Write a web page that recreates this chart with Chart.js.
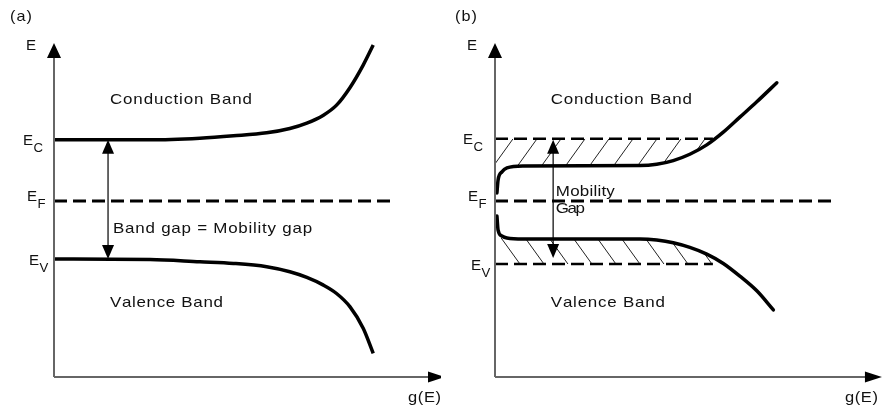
<!DOCTYPE html>
<html><head><meta charset="utf-8">
<script src="https://cdn.jsdelivr.net/npm/chart.js@4"></script>
<style>
html,body{margin:0;padding:0;background:#fff;overflow:hidden}
#wrap{position:relative;width:883px;height:407px;background:#fff}
canvas{position:absolute;top:0}
</style></head><body>
<div id="wrap">
<canvas id="ca" width="441" height="407" style="left:0px;width:441px;height:407px"></canvas>
<canvas id="cb" width="442" height="407" style="left:441px;width:442px;height:407px"></canvas>
</div>
<script>
// ---------- Data (g(E) on x, energy E on y, arbitrary 0..100 units) ----------
// Panel (a): crystalline band edges
const condA_g = [0, 24.9, 37.8, 46.5, 55.1, 61.1, 65.5, 69.8, 73.2, 76.7, 80.1, 82.7];
const condA_E = [71.0, 71.0, 71.5, 72.2, 73.1, 74.4, 76.0, 78.4, 81.4, 86.7, 93.4, 99.4];
const valA_g  = [0, 24.9, 37.8, 46.5, 55.1, 61.1, 65.5, 69.8, 73.2, 76.7, 80.1, 82.7];
const valA_E  = [35.3, 35.2, 34.5, 34.0, 33.0, 31.5, 29.8, 27.5, 25.0, 21.0, 14.6, 7.1];
const levelsA = { Ec: 71.0, Ef: 52.7, Ev: 35.3 };
const fermiA_g = [0, 88.3];
const gapArrowA = { g: 14.0, from: 35.3, to: 71.0 };

// Panel (b): amorphous, tail states inside the mobility gap
const condB_g = [0.5, 0.8, 1.8, 3.1, 7.3, 37.7, 42.0, 46.3, 50.6, 55.0, 59.3, 63.6, 68.0, 73.2];
const condB_E = [55.1, 59.0, 61.4, 62.6, 63.2, 63.3, 63.7, 64.8, 66.7, 69.5, 73.3, 77.8, 82.4, 88.1];
const valB_g  = [0.5, 0.8, 1.8, 3.1, 7.3, 37.7, 42.0, 46.3, 50.6, 55.0, 59.3, 63.6, 68.0, 72.3];
const valB_E  = [48.2, 44.0, 42.2, 41.6, 41.3, 41.3, 41.0, 40.2, 38.8, 36.8, 34.0, 30.2, 25.8, 20.1];
const levelsB = { Ec: 71.3, Ef: 52.7, Ev: 33.8 };
const mobilityEdgeB_g = [0, 56.6];
const fermiB_g = [0, 88.3];
const gapArrowB = { g: 15.1, from: 35.6, to: 71.0 };

// Axis extents (in data units)
const axisA = { gEnd: 101.3, EEnd: 100 };
const axisB = { gEnd: 100.5, EEnd: 100 };

// ---------- helpers ----------
const FONT = '"Liberation Sans", Arial, Helvetica, sans-serif';
const pts = (xs, ys) => xs.map((x, i) => ({ x, y: ys[i] }));
const hline = (xs, y) => xs.map(x => ({ x, y }));

// draw text left-aligned, glyphs widened by sx, spread to the given width
function drawSpaced(ctx, text, x, y, width, sx) {
  sx = sx || 1;
  const chars = [...text];
  const ws = chars.map(c => ctx.measureText(c).width * sx);
  const nat = ws.reduce((a, b) => a + b, 0);
  const sp = (width && chars.length > 1) ? (width - nat) / (chars.length - 1) : 0;
  let cx = x;
  chars.forEach((c, i) => {
    ctx.save(); ctx.translate(cx, y); ctx.scale(sx, 1); ctx.fillText(c, 0, 0); ctx.restore();
    cx += ws[i] + sp;
  });
}

function triangle(ctx, tipX, tipY, dir, len, half) {
  ctx.beginPath();
  if (dir === 'up') { ctx.moveTo(tipX, tipY); ctx.lineTo(tipX - half, tipY + len); ctx.lineTo(tipX + half, tipY + len); }
  else if (dir === 'down') { ctx.moveTo(tipX, tipY); ctx.lineTo(tipX - half, tipY - len); ctx.lineTo(tipX + half, tipY - len); }
  else { ctx.moveTo(tipX, tipY); ctx.lineTo(tipX - len, tipY - half); ctx.lineTo(tipX - len, tipY + half); }
  ctx.closePath(); ctx.fill();
}

const diagramPlugin = {
  id: 'diagram',
  beforeDatasetsDraw(chart) {
    const o = chart.options.plugins.diagram;
    const ctx = chart.ctx, xs = chart.scales.x, ys = chart.scales.y;
    if (!o.hatch) return;
    o.hatch.forEach(h => {
      const meta = chart.getDatasetMeta(h.curveIndex);
      const edgeY = ys.getPixelForValue(h.edge);
      const x0 = xs.getPixelForValue(h.g[0]);
      const x1 = xs.getPixelForValue(h.g[1]);
      const el = meta.data.filter(p => p.x >= xs.getPixelForValue(3) && p.x <= x1 + 4);
      ctx.save();
      ctx.beginPath();
      ctx.moveTo(x0, edgeY);
      ctx.lineTo(x1, edgeY);
      for (let i = el.length - 1; i >= 0; i--) ctx.lineTo(el[i].x, el[i].y);
      ctx.lineTo(x0, el[0].y);
      ctx.closePath();
      ctx.clip();
      ctx.strokeStyle = '#222';
      ctx.lineWidth = 1;
      const H = 60, k = 0.72;
      for (let t = x0 + h.phase - 240; t < x1 + 60; t += h.step) {
        ctx.beginPath();
        if (h.dir === '/') { ctx.moveTo(t, edgeY); ctx.lineTo(t - k * H, edgeY + H); }
        else { ctx.moveTo(t, edgeY); ctx.lineTo(t - k * H, edgeY - H); }
        ctx.stroke();
      }
      ctx.restore();
    });
  },
  afterDatasetsDraw(chart) {
    const o = chart.options.plugins.diagram;
    const ctx = chart.ctx, xs = chart.scales.x, ys = chart.scales.y;
    const ax = xs.getPixelForValue(0), ay = ys.getPixelForValue(0);
    const xEnd = xs.getPixelForValue(o.axis.gEnd), yEnd = ys.getPixelForValue(o.axis.EEnd);
    ctx.save();
    // axes
    ctx.strokeStyle = '#666'; ctx.lineWidth = 2;
    ctx.beginPath(); ctx.moveTo(ax, ay); ctx.lineTo(ax, yEnd + 12); ctx.stroke();
    ctx.beginPath(); ctx.moveTo(ax, ay); ctx.lineTo(xEnd - 14, ay); ctx.stroke();
    ctx.fillStyle = '#000';
    triangle(ctx, ax, yEnd, 'up', 15, 7);
    triangle(ctx, xEnd, ay, 'right', 17, 5.5);
    // double arrow
    const g = o.arrow;
    const gx = xs.getPixelForValue(g.g);
    const yTop = ys.getPixelForValue(g.to), yBot = ys.getPixelForValue(g.from);
    ctx.strokeStyle = '#000'; ctx.lineWidth = 1.2;
    ctx.beginPath(); ctx.moveTo(gx, yTop + 10); ctx.lineTo(gx, yBot - 10); ctx.stroke();
    triangle(ctx, gx, yTop, 'up', 14, 6);
    triangle(ctx, gx, yBot, 'down', 14, 6);
    // texts
    ctx.fillStyle = '#111';
    ctx.textBaseline = 'middle';
    o.texts.forEach(t => {
      ctx.font = '15px ' + FONT;
      drawSpaced(ctx, t.text, xs.getPixelForValue(t.g), ys.getPixelForValue(t.E), t.w, 1.13);
    });
    // level labels E_C, E_F, E_V
    ctx.textBaseline = 'alphabetic';
    o.levelLabels.forEach(l => {
      const y = ys.getPixelForValue(l.E);
      ctx.font = '14px ' + FONT;
      ctx.save(); ctx.translate(ax + l.dx, y + l.dy); ctx.scale(1.08, 1); ctx.fillText('E', 0, 0); ctx.restore();
      const w = ctx.measureText('E').width * 1.08;
      ctx.font = '12px ' + FONT;
      ctx.save(); ctx.translate(ax + l.dx + w + 0.5, y + l.dy + 7); ctx.scale(1.1, 1); ctx.fillText(l.sub, 0, 0); ctx.restore();
    });
    // axis titles and panel tag
    ctx.font = '14px ' + FONT;
    ctx.save(); ctx.translate(ax - 28, yEnd + 7); ctx.scale(1.08, 1); ctx.fillText('E', 0, 0); ctx.restore();
    ctx.textBaseline = 'middle';
    ctx.font = '15px ' + FONT;
    drawSpaced(ctx, o.tag, o.tagX, 17, 22, 1.08);
    ctx.font = '15px ' + FONT;
    drawSpaced(ctx, 'g(E)', xEnd - 37, ay + 21, 33, 1.1);
    ctx.restore();
  }
};

function baseOptions(pad, extra) {
  return {
    responsive: false,
    animation: false,
    events: [],
    layout: { padding: pad },
    scales: {
      x: { type: 'linear', min: 0, max: 100, display: false },
      y: { type: 'linear', min: 0, max: 100, display: false }
    },
    plugins: { legend: { display: false }, tooltip: { enabled: false }, diagram: extra },
    elements: { point: { radius: 0 } }
  };
}
const curveStyle = { borderColor: '#000', borderWidth: 3.5, cubicInterpolationMode: 'monotone', pointRadius: 0, showLine: true, clip: false, fill: false, borderCapStyle: 'round' };
const dashStyle = (w) => ({ borderColor: '#000', borderWidth: w, borderDash: [13, 6], pointRadius: 0, showLine: true, clip: false, fill: false, tension: 0 });

// ---------- Panel (a) ----------
new Chart(document.getElementById('ca'), {
  type: 'scatter',
  plugins: [diagramPlugin],
  data: {
    datasets: [
      Object.assign({ label: 'Conduction band edge', data: pts(condA_g, condA_E) }, curveStyle, { borderCapStyle: 'butt' }),
      Object.assign({ label: 'Valence band edge', data: pts(valA_g, valA_E) }, curveStyle, { borderCapStyle: 'butt' }),
      Object.assign({ label: 'Fermi level', data: hline(fermiA_g, levelsA.Ef) }, dashStyle(3))
    ]
  },
  options: baseOptions({ left: 54, right: 1, top: 43, bottom: 30 }, {
    axis: axisA,
    arrow: gapArrowA,
    tag: '(a)', tagX: 10,
    texts: [
      { text: 'Conduction Band', g: 14.5, E: 82.9, w: 142 },
      { text: 'Band gap = Mobility gap', g: 15.3, E: 44.3, w: 199 },
      { text: 'Valence Band', g: 14.5, E: 22.2, w: 113 }
    ],
    levelLabels: [
      { sub: 'C', E: levelsA.Ec, dx: -31, dy: 5 },
      { sub: 'F', E: levelsA.Ef, dx: -27, dy: 0 },
      { sub: 'V', E: levelsA.Ev, dx: -25, dy: 6 }
    ]
  })
});

// ---------- Panel (b) ----------
new Chart(document.getElementById('cb'), {
  type: 'scatter',
  plugins: [diagramPlugin],
  data: {
    datasets: [
      Object.assign({ label: 'Conduction band tail', data: pts(condB_g, condB_E) }, curveStyle),
      Object.assign({ label: 'Valence band tail', data: pts(valB_g, valB_E) }, curveStyle),
      Object.assign({ label: 'Mobility edge Ec', data: hline(mobilityEdgeB_g, levelsB.Ec) }, dashStyle(2.5)),
      Object.assign({ label: 'Fermi level', data: hline(fermiB_g, levelsB.Ef) }, dashStyle(3)),
      Object.assign({ label: 'Mobility edge Ev', data: hline(mobilityEdgeB_g, levelsB.Ev) }, dashStyle(2.5))
    ]
  },
  options: baseOptions({ left: 54, right: 3, top: 43, bottom: 30 }, {
    axis: axisB,
    arrow: gapArrowB,
    tag: '(b)', tagX: 14,
    hatch: [
      { curveIndex: 0, edge: levelsB.Ec, g: mobilityEdgeB_g, dir: '/', step: 24, phase: 18 },
      { curveIndex: 1, edge: levelsB.Ev, g: mobilityEdgeB_g, dir: '\\', step: 24, phase: 25 }
    ],
    texts: [
      { text: 'Conduction Band', g: 14.5, E: 82.9, w: 141 },
      { text: 'Mobility', g: 15.8, E: 55.4, w: 59 },
      { text: 'Gap', g: 15.8, E: 50.3, w: 29 },
      { text: 'Valence Band', g: 14.5, E: 22.2, w: 114 }
    ],
    levelLabels: [
      { sub: 'C', E: levelsB.Ec, dx: -32, dy: 5 },
      { sub: 'F', E: levelsB.Ef, dx: -27, dy: 0 },
      { sub: 'V', E: levelsB.Ev, dx: -24, dy: 6 }
    ]
  })
});
</script>
</body></html>
